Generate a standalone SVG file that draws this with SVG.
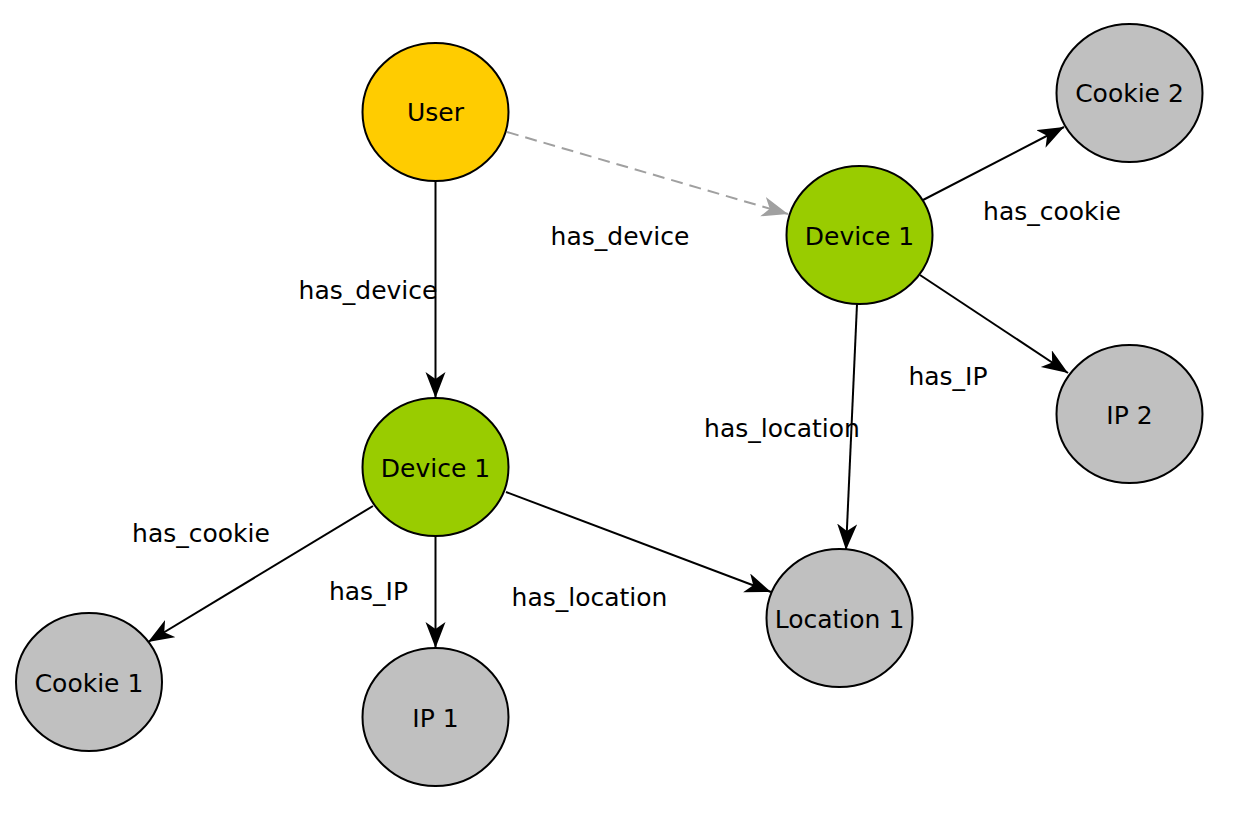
<svg xmlns="http://www.w3.org/2000/svg" width="1238" height="814" viewBox="0 0 1238 814">
<style>
.node{stroke:#000;stroke-width:2}
.user{fill:#FFCC00}
.dev{fill:#99CC00}
.leaf{fill:#C0C0C0}
text{font-family:"DejaVu Sans","Liberation Sans",sans-serif;font-size:25px;fill:#000;text-anchor:middle}
.edge{stroke:#000;stroke-width:2;fill:none;marker-end:url(#arr)}
.dash{stroke:#A0A0A0;stroke-width:2;fill:none;stroke-dasharray:12 7;marker-end:url(#arrg)}
</style>
<defs>
<marker id="arr" markerUnits="userSpaceOnUse" markerWidth="28" markerHeight="22" refX="26" refY="10" orient="auto" viewBox="0 0 28 22">
<path d="M0,0 L26,10 L0,20 L7,10 Z" fill="#000"/>
</marker>
<marker id="arrg" markerUnits="userSpaceOnUse" markerWidth="28" markerHeight="22" refX="26" refY="10" orient="auto" viewBox="0 0 28 22">
<path d="M0,0 L26,10 L0,20 L7,10 Z" fill="#A0A0A0"/>
</marker>
</defs>
<g id="connectors">
<line class="edge" x1="435.5" y1="181" x2="435.5" y2="398"/>
<line class="dash" x1="507" y1="132" x2="788" y2="214"/>
<line class="edge" x1="923" y1="200" x2="1064" y2="127"/>
<line class="edge" x1="920" y1="275" x2="1068" y2="373"/>
<line class="edge" x1="857" y1="304" x2="846" y2="550"/>
<line class="edge" x1="373" y1="506" x2="148" y2="642"/>
<line class="edge" x1="435.5" y1="536" x2="435.5" y2="648"/>
<line class="edge" x1="506" y1="492" x2="771" y2="592"/>
<text x="368" y="299">has_device</text>
<text x="620" y="245">has_device</text>
<text x="1052" y="220">has_cookie</text>
<text x="948" y="385">has_IP</text>
<text x="782" y="437">has_location</text>
<text x="201" y="542">has_cookie</text>
<text x="368.5" y="600">has_IP</text>
<text x="589.5" y="606">has_location</text>
</g>
<g id="user"><ellipse class="node user" cx="435.5" cy="112" rx="73" ry="69"/><text x="435.5" y="121">User</text></g>
<g id="device1-top"><ellipse class="node dev" cx="859.5" cy="235" rx="73" ry="69"/><text x="859.5" y="245">Device 1</text></g>
<g id="cookie2"><ellipse class="node leaf" cx="1129.5" cy="93" rx="73" ry="69"/><text x="1129.5" y="102">Cookie 2</text></g>
<g id="ip2"><ellipse class="node leaf" cx="1129.5" cy="414" rx="73" ry="69"/><text x="1129.5" y="424">IP 2</text></g>
<g id="device1-bottom"><ellipse class="node dev" cx="435.5" cy="467" rx="73" ry="69"/><text x="435.5" y="477">Device 1</text></g>
<g id="cookie1"><ellipse class="node leaf" cx="89" cy="682" rx="73" ry="69"/><text x="89" y="692">Cookie 1</text></g>
<g id="ip1"><ellipse class="node leaf" cx="435.5" cy="717" rx="73" ry="69"/><text x="435.5" y="727">IP 1</text></g>
<g id="location1"><ellipse class="node leaf" cx="839.5" cy="618" rx="73" ry="69"/><text x="839.5" y="628">Location 1</text></g>
</svg>
